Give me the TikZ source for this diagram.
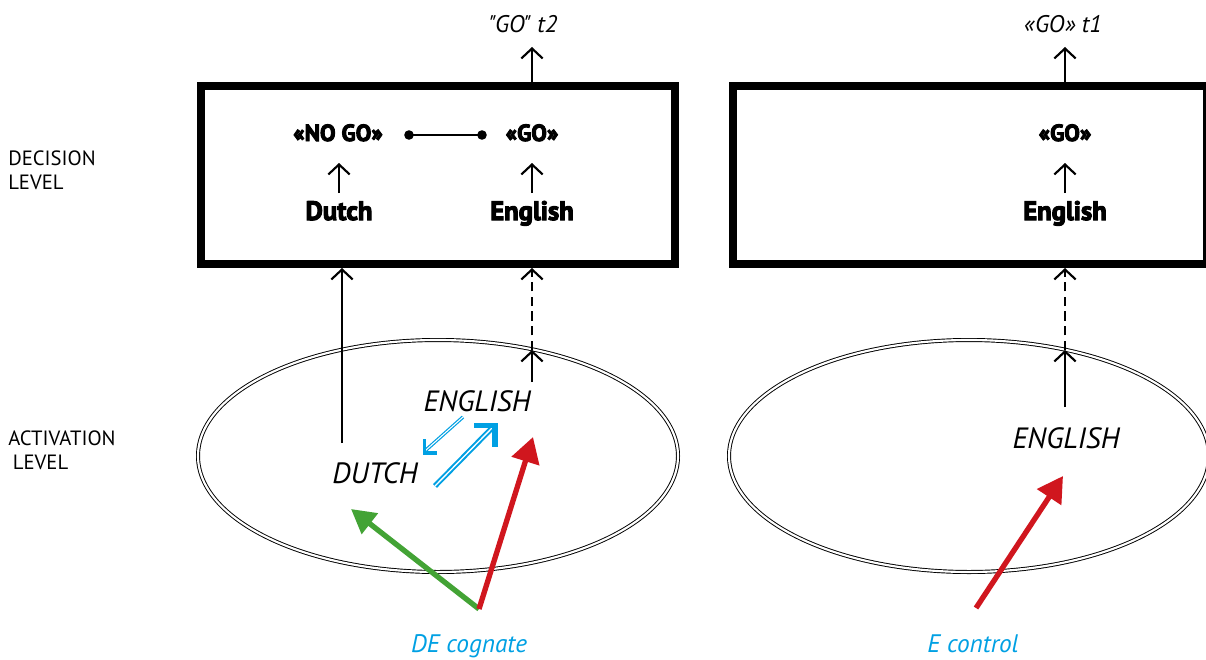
\documentclass[tikz,border=0pt]{standalone}
\usepackage{fontspec}
\setmainfont{PT Sans}
\newfontfamily\heavyfont{PT Sans}[BoldFeatures={FakeBold=4}]
\newfontfamily\outfont{PT Sans}[Ligatures=TeXOff]
\usetikzlibrary{arrows.meta,shapes.geometric}
\definecolor{cogblue}{RGB}{0,160,227}
\definecolor{actred}{RGB}{208,22,30}
\definecolor{actgreen}{RGB}{67,163,53}

\begin{document}
\begin{tikzpicture}[x=0.75pt,y=-0.75pt,
  decbox/.style={draw, line width=6pt, minimum width=355.5pt, minimum height=132.75pt, inner sep=0pt},
  actell/.style={ellipse, draw, line width=0.7pt, double, double distance=1.6pt,
    minimum width=360pt, minimum height=174pt, inner sep=0pt},
  resp/.style={font=\heavyfont\bfseries\fontsize{17.5pt}{20pt}\selectfont, anchor=base, inner sep=0pt},
  lang/.style={font=\heavyfont\bfseries\fontsize{20pt}{22pt}\selectfont, anchor=base, inner sep=0pt},
  outlabel/.style={font=\outfont\itshape\fontsize{18pt}{20pt}\selectfont, anchor=base, inner sep=0pt},
  actword/.style={font=\itshape\fontsize{22pt}{24pt}\selectfont, anchor=base, inner sep=0pt},
  stimulus/.style={font=\itshape\fontsize{19pt}{22pt}\selectfont, text=cogblue, anchor=base, inner sep=0pt},
  levellabel/.style={font=\fontsize{15.5pt}{18pt}\selectfont, align=left, anchor=base west, inner sep=0pt},
  uparrow/.style={line width=1.6pt, -{Straight Barb[length=7.5pt,width=16pt,line width=1.6pt]}},
  updashed/.style={uparrow, dash pattern=on 7pt off 4pt},
  redpush/.style={actred, line width=4pt, -{Triangle[length=19pt,width=21pt]}},
  greenpush/.style={actgreen, line width=4pt, -{Triangle[length=18pt,width=19pt]}},
  blueshaft/.style={cogblue, double, line cap=butt},
  bluehead/.style={cogblue, line join=miter, line cap=butt},
]
\clip (0,0) rectangle (1206,660);

% level labels (base anchor sits on the last line)
\node[levellabel] (declev) at (8,189) {DECISION\\LEVEL};
\node[levellabel] (actlev) at (8,469) {ACTIVATION\\\hspace*{3.5pt}LEVEL};

% decision boxes
\node[decbox] (boxL) at (438,175) {};
\node[decbox] (boxR) at (970,175) {};

% activation ellipses
\node[actell] (ellL) at (438,456) {};
\node[actell] (ellR) at (969,456) {};

% left decision content
\node[resp] (nogo) at (338,141) {«NO GO»};
\node[resp] (goL) at (532,141) {«GO»};
\node[lang] (dutchD) at (339,220) {Dutch};
\node[lang] (englD) at (532,220) {English};
\node[outlabel] (outL) at (523,33) {"GO" t2};

% right decision content
\node[resp] (goR) at (1065,141) {«GO»};
\node[lang] (englR) at (1065,220) {English};
\node[outlabel] (outR) at (1063,33) {«GO» t1};

% activation words
\node[actword] (englA) at (477,411) {ENGLISH};
\node[actword] (dutchA) at (375,483) {DUTCH};
\node[actword] (englRA) at (1066,448) {ENGLISH};

% stimulus labels
\node[stimulus] (cog) at (469,652) {DE cognate};
\node[stimulus] (ctrl) at (973,652) {E control};

% arrow end points
\coordinate (dL1) at (339,193); \coordinate (dL2) at (339,163);
\coordinate (eL1) at (532,193); \coordinate (eL2) at (532,163);
\coordinate (eR1) at (1065,193); \coordinate (eR2) at (1065,163);
\coordinate (oL1) at (532,82); \coordinate (oL2) at (532,47);
\coordinate (oR1) at (1065,82); \coordinate (oR2) at (1065,47);
\coordinate (dotL) at (409,135); \coordinate (dotR) at (482,135);

\coordinate (dA) at (342,443); \coordinate (dAtop) at (342,268);
\coordinate (eA) at (532,382); \coordinate (eAmid) at (532,350); \coordinate (eAtop) at (532,268);
\coordinate (eRA) at (1065,407); \coordinate (eRAmid) at (1065,350); \coordinate (eRAtop) at (1065,268);

\coordinate (cogSrc) at (479,609); \coordinate (cogEng) at (533,437); \coordinate (cogDut) at (351,509);
\coordinate (ctrlSrc) at (976,608); \coordinate (ctrlEng) at (1063,476);

\coordinate (b1s) at (463,417); \coordinate (b1e) at (426,450); \coordinate (b1t) at (424.5,453);
\coordinate (b2s) at (435,486); \coordinate (b2e) at (492,428); \coordinate (b2t) at (495,425.5);

% arrows inside the decision boxes
\draw[uparrow] (dL1) -- (dL2);
\draw[uparrow] (eL1) -- (eL2);
\draw[uparrow] (eR1) -- (eR2);
\draw[uparrow] (oL1) -- (oL2);
\draw[uparrow] (oR1) -- (oR2);

% competition link between responses
\draw[line width=1.5pt] (dotL) -- (dotR);
\fill (dotL) circle[radius=3.6pt];
\fill (dotR) circle[radius=3.6pt];

% activation to decision
\draw[uparrow] (dA) -- (dAtop);
\draw[uparrow] (eA) -- (eAmid);
\draw[updashed] (eAmid) -- (eAtop);
\draw[uparrow] (eRA) -- (eRAmid);
\draw[updashed] (eRAmid) -- (eRAtop);

% cross-language activation
\draw[blueshaft, line width=0.9pt, double distance=0.8pt] (b1s) -- (b1e);
\draw[bluehead, line width=2.4pt] (b1t) ++(0,-14) -- (b1t) -- ++(12,0);
\draw[blueshaft, line width=1.5pt, double distance=1pt] (b2s) -- (b2e);
\draw[bluehead, line width=3.8pt] (b2t) ++(-21,0) -- (b2t) -- ++(0,21);

% stimulus input
\draw[greenpush] (cogSrc) -- (cogDut);
\draw[redpush] (cogSrc) -- (cogEng);
\draw[redpush] (ctrlSrc) -- (ctrlEng);
\end{tikzpicture}
\end{document}
